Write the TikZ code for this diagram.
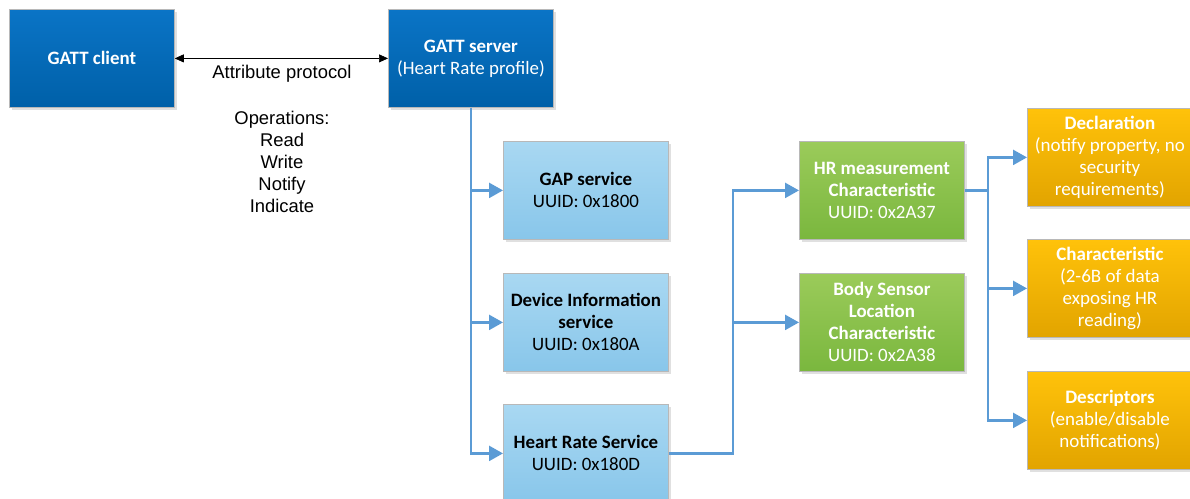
\documentclass[tikz,border=0pt]{standalone}
\usepackage{fontspec}
\setmainfont{Carlito}
\newfontfamily\arialf{Liberation Sans}
\usetikzlibrary{arrows.meta,shadows}
\definecolor{darkT}{HTML}{0A74C6}
\definecolor{darkB}{HTML}{0060A8}
\definecolor{lightT}{HTML}{A9D8F2}
\definecolor{lightB}{HTML}{88C6EA}
\definecolor{greenT}{HTML}{9BCB5A}
\definecolor{greenB}{HTML}{7AB73E}
\definecolor{orangeT}{HTML}{FFC20A}
\definecolor{orangeB}{HTML}{E2A400}
\definecolor{conncol}{HTML}{5B9BD5}
\tikzset{
  boxbase/.style={rectangle, minimum width=165pt, minimum height=98pt, anchor=north west,
    align=center, inner sep=2pt, draw=black!28, line width=0.8pt,
    drop shadow={shadow xshift=3pt, shadow yshift=-3pt, fill=black!12, opacity=1},
    font=\fontsize{18.9}{22}\selectfont},
  darkbox/.style={boxbase, top color=darkT, bottom color=darkB, text=white},
  lightbox/.style={boxbase, top color=lightT, bottom color=lightB, text=black},
  greenbox/.style={boxbase, top color=greenT, bottom color=greenB, text=white},
  orangebox/.style={boxbase, top color=orangeT, bottom color=orangeB, text=white, font=\fontsize{19}{22}\selectfont},
  conn/.style={draw=conncol, line width=2.4pt, -{Triangle[length=14pt,width=15pt]}},
  plain/.style={font=\arialf\fontsize{18.4}{22}\selectfont, align=center, text=black}
}
\begin{document}
\begin{tikzpicture}[x=1pt,y=-1pt]
\useasboundingbox (0,0) rectangle (1190,498);
\clip (0,0) rectangle (1190,498);
\fill[white] (0,0) rectangle (1190,498);
% top row
\node[darkbox] (client) at (9,9) {\bfseries GATT client};
\node[darkbox] (server) at (388,9) {\bfseries GATT server\\(Heart Rate profile)};
\draw[black, line width=0.7pt, {Triangle[length=9pt,width=8pt]}-{Triangle[length=9pt,width=8pt]}] (client.east) -- (server.west);
\node[plain] (attp) at (282,74) {Attribute protocol};
\node[plain, anchor=north] (ops) at (282,108) {Operations:\\Read\\Write\\Notify\\Indicate};
% services
\node[lightbox] (gap) at (503,141) {\bfseries GAP service\\UUID: 0x1800};
\node[lightbox] (dev) at (503,273) {\bfseries Device Information\\\bfseries service\\UUID: 0x180A};
\node[lightbox] (hrs) at (503,404) {\bfseries Heart Rate Service\\UUID: 0x180D};
% characteristics
\node[greenbox] (hrm) at (799,141) {\bfseries HR measurement\\\bfseries Characteristic\\UUID: 0x2A37};
\node[greenbox] (bsl) at (799,273) {\bfseries Body Sensor\\\bfseries Location\\\bfseries Characteristic\\UUID: 0x2A38};
% attributes
\node[orangebox] (decl) at (1027,108) {\bfseries Declaration\\(notify property, no\\security\\requirements)};
\node[orangebox] (char) at (1027,239) {\bfseries Characteristic\\(2-6B of data\\exposing HR\\reading)};
\node[orangebox] (desc) at (1027,371) {\bfseries Descriptors\\(enable/disable\\notifications)};
% connectors
\draw[conn] (server.south) |- (gap.west);
\draw[conn] (server.south) |- (dev.west);
\draw[conn] (server.south) |- (hrs.west);
\coordinate (j1) at (733,0);
\draw[conn] (hrs.east) -| (j1 |- hrm.west) -- (hrm.west);
\draw[conn] (j1 |- hrs.east) |- (bsl.west);
\coordinate (j2) at (988,0);
\draw[conn] (hrm.east) -| (j2 |- decl.west) -- (decl.west);
\draw[conn] (j2 |- hrm.east) |- (char.west);
\draw[conn] (j2 |- hrm.east) |- (desc.west);
\end{tikzpicture}
\end{document}
